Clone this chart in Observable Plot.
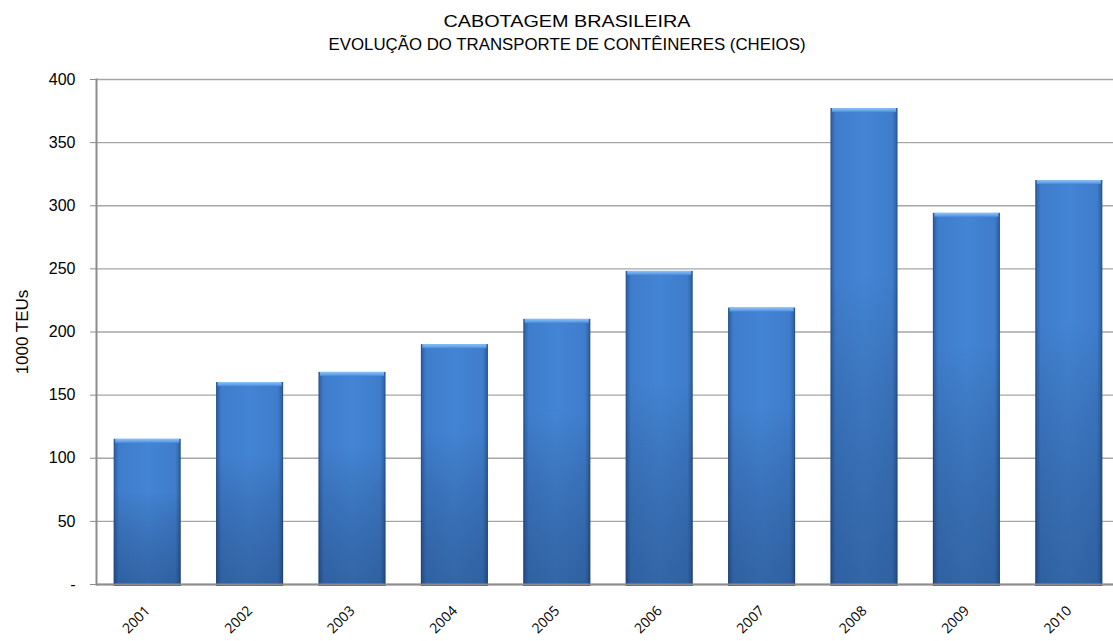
<!DOCTYPE html>
<html>
<head>
<meta charset="utf-8">
<script src="https://cdn.jsdelivr.net/npm/d3@7"></script>
<script src="https://cdn.jsdelivr.net/npm/@observablehq/plot@0.6"></script>
<style>
  html, body { margin: 0; padding: 0; background: #fff; overflow: hidden; width: 1113px; height: 641px; }
  #wrap { position: relative; width: 1113px; height: 641px; overflow: hidden; }
  #title { position: absolute; left: 0; top: 0; }
  #chart { position: absolute; left: 0; top: 0; }
</style>
</head>
<body>
<div id="wrap">
  <div id="chart"></div>
  <svg id="title" width="1113" height="60" font-family="'Liberation Sans', Arial, sans-serif" font-size="17" fill="#000">
    <text x="567" y="27" text-anchor="middle" textLength="247" lengthAdjust="spacingAndGlyphs">CABOTAGEM  BRASILEIRA</text>
    <text x="567" y="50" text-anchor="middle" textLength="477" lengthAdjust="spacingAndGlyphs">EVOLUÇÃO DO TRANSPORTE DE CONTÊINERES (CHEIOS)</text>
  </svg>
</div>
<script>
const years = ["2001","2002","2003","2004","2005","2006","2007","2008","2009","2010"];
const teus = [115, 160, 168, 190, 210, 248, 219, 377, 294, 320];
const yTicks = [0, 50, 100, 150, 200, 250, 300, 350, 400];
const yTickLabels = ["-", "50", "100", "150", "200", "250", "300", "350", "400"];
const yLabel = "1000 TEUs";

const data = years.map((y, i) => ({year: y, value: teus[i]}));

const plot = Plot.plot({
  width: 1120,
  height: 641,
  marginTop: 79,
  marginBottom: 57,
  marginLeft: 96,
  marginRight: 0,
  style: {fontFamily: "'Liberation Sans', Arial, sans-serif", background: "transparent", maxWidth: "none"},
  x: {domain: years, paddingInner: 0.345, paddingOuter: 0.1725, round: false, label: null},
  y: {domain: [0, 400], label: null},
  marks: [
    Plot.gridY(yTicks, {stroke: "#a6a6a6", strokeOpacity: 1, strokeWidth: 1.3}),
    Plot.barY(data, {x: "year", y: "value", fill: "url(#barH)", insetBottom: -2}),
    Plot.barY(data, {x: "year", y: "value", fill: "url(#barV)", insetBottom: -2}),
    Plot.barY(data, {x: "year", y1: "value", y2: "value", insetBottom: -4, insetLeft: 1.5, insetRight: 1.5, fill: "url(#bevel)"}),
    Plot.frame({anchor: "left", stroke: "#8c8c8c", strokeWidth: 2}),
    Plot.ruleY([0], {stroke: "#8c8c8c", strokeWidth: 2}),
    Plot.axisY(yTicks, {tickSize: 6, tickPadding: 15, fontSize: 16, stroke: "#8c8c8c",
      tickFormat: (d) => yTickLabels[yTicks.indexOf(d)], label: null}),
    Plot.axisX({tickSize: 0, tickPadding: 24, tickRotate: -45, fontSize: 14, label: null,
      fontFamily: "'Open Sans', sans-serif"}),
    Plot.text([yLabel], {frameAnchor: "left", textAnchor: "middle", dx: -74, rotate: -90, fontSize: 17, text: d => d, fill: "#000"})
  ]
});

const svg = d3.select(plot);
const defs = svg.insert("defs", ":first-child");
const gh = defs.append("linearGradient").attr("id", "barH").attr("x1", 0).attr("x2", 1).attr("y1", 0).attr("y2", 0);
[[0, "#254d85"], [0.03, "#3368b0"], [0.08, "#3f7dcc"], [0.5, "#4384d4"], [0.92, "#3f7dcc"], [0.97, "#3368b0"], [1, "#254d85"]]
  .forEach(([o, c]) => gh.append("stop").attr("offset", o).attr("stop-color", c));
const gv = defs.append("linearGradient").attr("id", "barV").attr("x1", 0).attr("x2", 0).attr("y1", 0).attr("y2", 1);
[[0, "#000", 0], [0.35, "#000", 0], [1, "#0a1f40", 0.3]]
  .forEach(([o, c, a]) => gv.append("stop").attr("offset", o).attr("stop-color", c).attr("stop-opacity", a));
const gb = defs.append("linearGradient").attr("id", "bevel").attr("x1", 0).attr("x2", 0).attr("y1", 0).attr("y2", 1);
[[0, "#8cc2f6"], [0.5, "#6eaaee"], [1, "#4d8ddc"]]
  .forEach(([o, c]) => gb.append("stop").attr("offset", o).attr("stop-color", c));

document.getElementById("chart").appendChild(plot);
</script>
</body>
</html>
